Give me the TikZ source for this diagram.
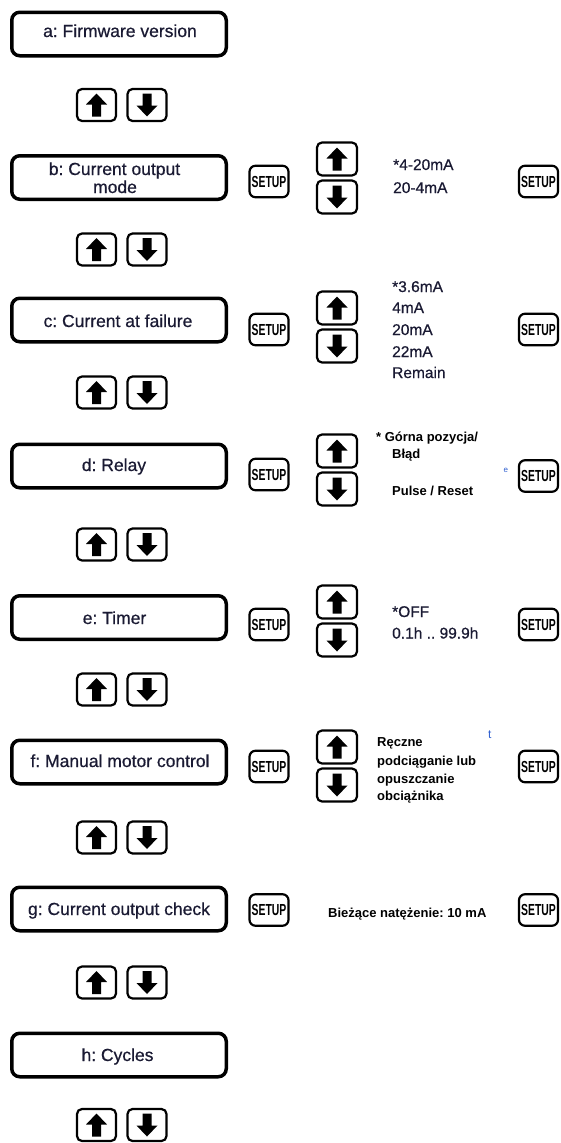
\documentclass[tikz,border=0pt]{standalone}
\usepackage{fontspec}
\setmainfont{Liberation Sans}
\newfontfamily\setupf[FakeStretch=0.65]{Liberation Sans}
\newfontfamily\lblf[FakeBold=0.6]{Liberation Sans}
\definecolor{ink}{HTML}{1A1A33}
\definecolor{strayblue}{HTML}{2F5FD0}
\frenchspacing
\newcommand\btnup[1]{\fill[shift={(#1.center)}] (0,-11.5) -- (10.5,-0.5) -- (4.5,-0.5) -- (4.5,11.5) -- (-4.5,11.5) -- (-4.5,-0.5) -- (-10.5,-0.5) -- cycle;}
\newcommand\btndn[1]{\fill[shift={(#1.center)}] (0,11.5) -- (10.5,0.5) -- (4.5,0.5) -- (4.5,-11.5) -- (-4.5,-11.5) -- (-4.5,0.5) -- (-10.5,0.5) -- cycle;}
\begin{document}
\begin{tikzpicture}[x=1pt,y=-1pt,
  mainbox/.style={draw=black, line width=3.5pt, rounded corners=8pt, minimum width=214.5pt, minimum height=43.5pt, inner sep=0pt},
  arrbtn/.style={draw=black, line width=2.2pt, rounded corners=5pt, minimum width=39pt, minimum height=32pt, inner sep=0pt},
  vbtn/.style={draw=black, line width=2.2pt, rounded corners=5pt, minimum width=40pt, minimum height=33pt, inner sep=0pt},
  setupbtn/.style={draw=black, line width=2.2pt, rounded corners=6pt, minimum width=39pt, minimum height=31.5pt, inner sep=0pt, font=\setupf\bfseries\fontsize{16}{16}\selectfont},
  lbl/.style={anchor=base, font=\lblf\fontsize{17.5}{18}\selectfont, text=ink, inner sep=0pt},
  opt/.style={anchor=base west, font=\lblf\fontsize{15.5}{16}\selectfont, text=ink, inner sep=0pt},
  pl/.style={anchor=base west, font=\bfseries\fontsize{13}{14}\selectfont, text=black, inner sep=0pt},
  stray/.style={anchor=base west, text=strayblue, inner sep=0pt}]
\useasboundingbox (0,0) rectangle (560,1143);

% main menu boxes
\node[mainbox] (a) at (119,34) {};
\node[mainbox] (b) at (119,177.5) {};
\node[mainbox] (c) at (119,320) {};
\node[mainbox] (d) at (119,466) {};
\node[mainbox] (e) at (119,617.5) {};
\node[mainbox] (f) at (119,762) {};
\node[mainbox] (g) at (119,909) {};
\node[mainbox] (h) at (119,1055) {};

\node[lbl] (ta) at (120,37) {a: Firmware version};
\node[lbl] (tb1) at (114.5,175) {b: Current output};
\node[lbl] (tb2) at (115,193) {mode};
\node[lbl] (tc) at (118,327) {c: Current at failure};
\node[lbl] (td) at (114,471) {d: Relay};
\node[lbl] (te) at (114.5,624) {e: Timer};
\node[lbl] (tf) at (120,767) {f: Manual motor control};
\node[lbl] (tg) at (119,915) {g: Current output check};
\node[lbl] (th) at (117.5,1061) {h: Cycles};

% up/down button pairs below each box
\foreach \n/\y in {1/105, 2/249.5, 3/392.5, 4/544.5, 5/689.5, 6/837.5, 7/982.5, 8/1125} {
  \node[arrbtn] (hu\n) at (96.5,\y) {};
  \node[arrbtn] (hd\n) at (147,\y) {};
  \btnup{hu\n}
  \btndn{hd\n}
}

% SETUP buttons
\foreach \n/\y in {b/181.5, c/329.5, d/474.5, e/624.5, f/766.5, g/910} {
  \node[setupbtn] (sl\n) at (269,\y) {SETUP};
}
\foreach \n/\y in {b/181.5, c/329.5, d/476, e/624.5, f/766.5, g/910} {
  \node[setupbtn] (sr\n) at (538.5,\y) {SETUP};
}

% vertical up/down pairs
\foreach \n/\y in {b/178, c/327, d/470, e/621, f/766} {
  \node[vbtn] (vu\n) at (337,\y-19) {};
  \node[vbtn] (vd\n) at (337,\y+19) {};
  \btnup{vu\n}
  \btndn{vd\n}
}

% option texts
\node[opt] (ob1) at (393,170) {*4-20mA};
\node[opt] (ob2) at (393,193) {20-4mA};
\node[opt] (oc1) at (392,292) {*3.6mA};
\node[opt] (oc2) at (392,313) {4mA};
\node[opt] (oc3) at (392,335) {20mA};
\node[opt] (oc4) at (392,357) {22mA};
\node[opt] (oc5) at (392,378) {Remain};
\node[pl] (od1) at (376,441.7) {* Górna pozycja/};
\node[pl] (od2) at (392,458) {Błąd};
\node[pl] (od3) at (392,495) {Pulse / Reset};
\node[opt] (oe1) at (392,617) {*OFF};
\node[opt] (oe2) at (392,638.5) {0.1h .. 99.9h};
\node[pl] (of1) at (377,746.7) {Ręczne};
\node[pl] (of2) at (377,765) {podciąganie lub};
\node[pl] (of3) at (377,783) {opuszczanie};
\node[pl] (of4) at (377,800) {obciążnika};
\node[pl] (og1) at (328,917) {Bieżące natężenie: 10 mA};

% stray glyphs
\node[stray, font=\fontsize{8}{8}\selectfont] (se) at (503.5,472) {e};
\node[stray, font=\fontsize{12}{12}\selectfont] (st) at (488,738) {t};
\end{tikzpicture}
\end{document}
